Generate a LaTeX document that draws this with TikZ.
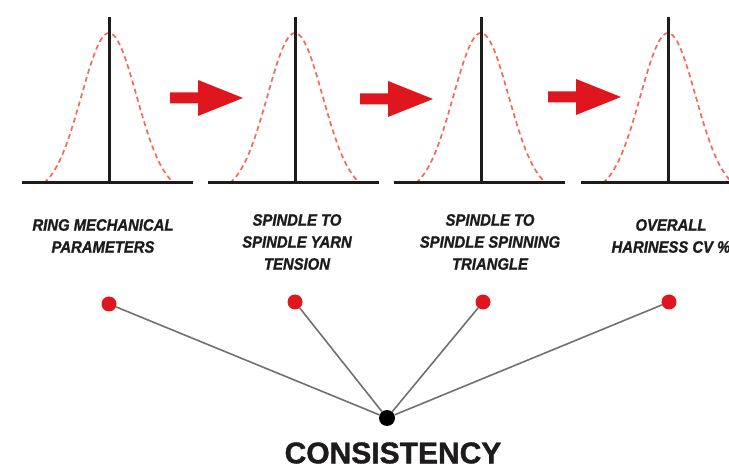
\documentclass[tikz,border=0pt]{standalone}
\usepackage{fontspec}
\newfontfamily\capfont{Liberation Sans}[FakeStretch=0.9,FakeBold=1.2]
\newfontfamily\hubfont{Liberation Sans}[FakeStretch=1.0,FakeBold=1.2]
\definecolor{arrowred}{HTML}{E0161F}
\definecolor{bellred}{HTML}{F26A5A}
\definecolor{inkgray}{HTML}{1E1B1C}
\definecolor{linkgray}{HTML}{707070}
\tikzset{
  axisline/.style={inkgray,line width=3pt},
  bell/.style={bellred,line width=1.7pt,dash pattern=on 5pt off 3.5pt},
  caption/.style={inkgray,align=center,font=\capfont\bfseries\itshape\fontsize{16.5}{22}\selectfont},
  reddot/.style={circle,fill=arrowred,inner sep=0pt,minimum size=15pt},
  hubdot/.style={circle,fill=black,inner sep=0pt,minimum size=16pt},
  link/.style={linkgray,line width=1.6pt}
}
\begin{document}
\begin{tikzpicture}[x=1pt,y=-1pt]
  \useasboundingbox (0,0) rectangle (729,470);
  % Bell curves with axes
  \foreach \cx in {109,295,481,668}{
    \draw[bell] plot[domain=\cx-65:\cx+65,samples=61,smooth]
      (\x,{193-160*exp(-((\x-\cx)*(\x-\cx))/1523.5)});
    \draw[axisline] (\cx,17) -- (\cx,183);
    \draw[axisline] (\cx-87,183) -- (\cx+84,183);
  }
  % Red arrows between panels
  \foreach \ax/\ay in {170/98,360/99,548/97}{
    \fill[arrowred] (\ax,\ay-5.5) -- ++(28,0) -- ++(0,-12.5) -- ++(45,18)
      -- ++(-45,18) -- ++(0,-12.5) -- ++(-28,0) -- cycle;
  }
  % Captions
  \node[caption] (cap1) at (103,236) {RING MECHANICAL\\PARAMETERS};
  \node[caption] (cap2) at (297,242) {SPINDLE TO\\SPINDLE YARN\\TENSION};
  \node[caption] (cap3) at (490,242) {SPINDLE TO\\SPINDLE SPINNING\\TRIANGLE};
  \node[caption] (cap4) at (671,236) {OVERALL\\HARINESS CV \%};
  % Dots and links
  \node[reddot] (d1) at (109,304) {};
  \node[reddot] (d2) at (295,302) {};
  \node[reddot] (d3) at (483,302) {};
  \node[reddot] (d4) at (669,302) {};
  \node[hubdot] (hub) at (387,418) {};
  \foreach \d in {d1,d2,d3,d4}
    \draw[link] (\d) -- (hub);
  \node[inkgray,font=\hubfont\bfseries\fontsize{30}{30}\selectfont] (cons) at (393,453) {CONSISTENCY};
\end{tikzpicture}
\end{document}
